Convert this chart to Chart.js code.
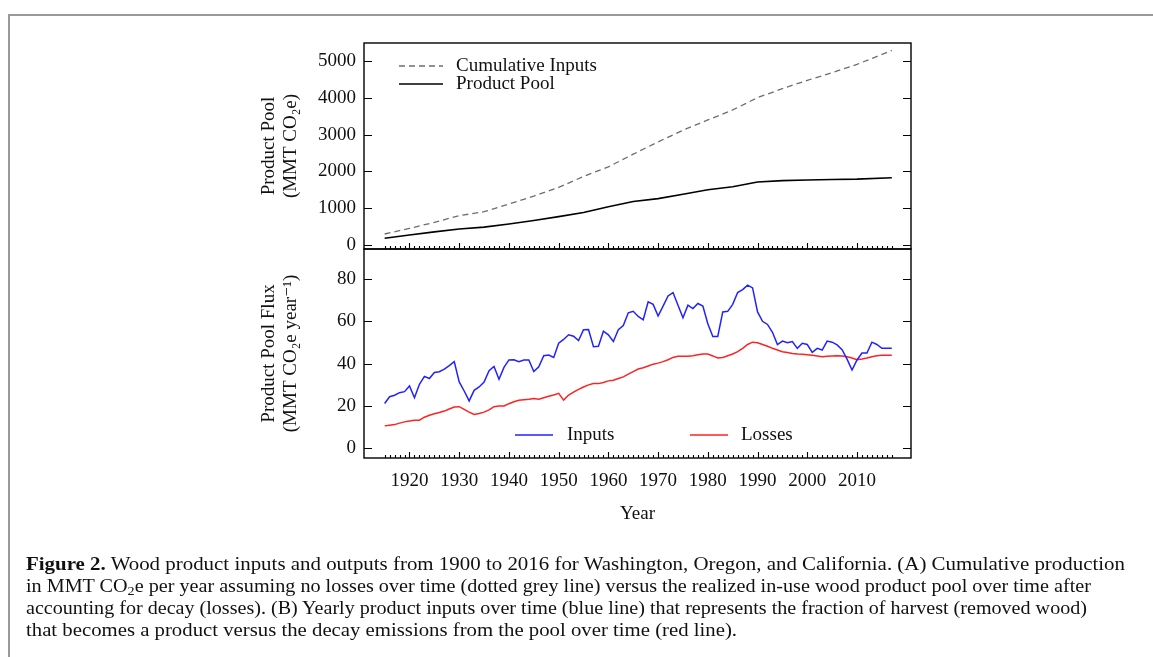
<!DOCTYPE html>
<html><head><meta charset="utf-8">
<script src="https://cdn.jsdelivr.net/npm/chart.js@4.4.1/dist/chart.umd.min.js"></script>
<style>
html,body{margin:0;padding:0;background:#fff;}
body{width:1153px;height:657px;position:relative;overflow:hidden;font-family:"Liberation Serif","DejaVu Serif",serif;}
#frame{position:absolute;left:8px;top:14px;width:1300px;height:800px;border-left:2px solid #999;border-top:2px solid #999;}
canvas{position:absolute;left:0;top:0;}
#caption{position:absolute;left:26px;top:553px;font-size:19px;line-height:22px;color:#111;white-space:nowrap;}
#caption .ln{display:block;width:max-content;transform-origin:0 0;}
#caption sub{font-size:0.7em;line-height:0;vertical-align:-0.25em;}
</style></head><body>
<div id="frame"></div>
<canvas id="topChart" width="1153" height="657"></canvas>
<canvas id="botChart" width="1153" height="657"></canvas>
<div id="caption">
<span class="ln"><b>Figure 2.</b> Wood product inputs and outputs from 1900 to 2016 for Washington, Oregon, and California. (A) Cumulative production</span>
<span class="ln">in MMT CO<sub>2</sub>e per year assuming no losses over time (dotted grey line) versus the realized in-use wood product pool over time after</span>
<span class="ln">accounting for decay (losses). (B) Yearly product inputs over time (blue line) that represents the fraction of harvest (removed wood)</span>
<span class="ln">that becomes a product versus the decay emissions from the pool over time (red line).</span>
</div>
<script>
// ---------- data ----------
const years = [1915,1916,1917,1918,1919,1920,1921,1922,1923,1924,1925,1926,1927,1928,1929,
1930,1931,1932,1933,1934,1935,1936,1937,1938,1939,1940,1941,1942,1943,1944,1945,1946,1947,1948,1949,
1950,1951,1952,1953,1954,1955,1956,1957,1958,1959,1960,1961,1962,1963,1964,1965,1966,1967,1968,1969,
1970,1971,1972,1973,1974,1975,1976,1977,1978,1979,1980,1981,1982,1983,1984,1985,1986,1987,1988,1989,
1990,1991,1992,1993,1994,1995,1996,1997,1998,1999,2000,2001,2002,2003,2004,2005,2006,2007,2008,2009,
2010,2011,2012,2013,2014,2015,2016,2017];
const inputs = [21.1,24.3,25.0,26.2,26.7,29.4,23.8,30.2,33.9,32.9,35.8,36.1,37.4,39.0,40.9,
31.3,27.0,22.3,27.3,28.9,31.2,36.6,38.6,32.6,38.2,41.7,41.8,40.9,41.7,41.7,36.2,38.5,43.7,44.0,42.9,
49.6,51.4,53.6,52.9,50.9,56.0,56.1,48.0,48.2,55.3,53.6,50.4,56.0,58.0,64.0,64.7,62.3,60.7,69.2,68.0,
62.5,67.2,72.0,73.6,67.6,61.7,67.6,66.0,68.4,67.2,58.8,52.8,52.8,64.4,64.7,68.0,73.6,75.0,77.1,75.8,
64.4,60.0,58.5,54.8,49.0,50.6,49.8,50.4,47.2,49.6,49.0,45.3,47.2,46.4,50.6,50.1,48.8,46.6,42.1,36.9,
41.7,45.0,45.0,50.1,49.0,47.2,47.2,47.2];
const losses = [10.5,10.8,11.1,11.8,12.4,12.8,13.2,13.2,14.6,15.5,16.2,16.8,17.5,18.5,19.4,
19.6,18.3,17.0,15.9,16.4,17.0,18.1,19.6,19.9,19.9,21.0,21.9,22.6,22.9,23.1,23.4,23.1,23.8,24.5,25.1,
25.9,22.7,25.1,26.5,27.8,28.9,29.9,30.5,30.5,31.0,31.8,32.1,32.9,33.7,35.0,36.2,37.4,38.0,38.8,39.7,
40.2,40.9,41.8,42.9,43.4,43.4,43.4,43.7,44.2,44.5,44.5,43.6,42.6,42.9,43.7,44.5,45.6,47.2,49.0,50.1,
49.8,49.0,48.2,47.2,46.4,45.6,45.2,44.8,44.5,44.4,44.2,43.9,43.6,43.2,43.4,43.6,43.7,43.6,43.2,42.6,
41.8,42.1,42.6,43.2,43.7,43.9,43.9,43.9];
const topYears = [1915,1920,1925,1930,1935,1940,1945,1950,1955,1960,1965,1970,1975,1980,1985,1990,1995,2000,2005,2010,2017];
const cumulativeInputs = [298,452,615,795,904,1112,1329,1564,1862,2124,2468,2802,3119,3399,3670,4005,4249,4475,4683,4909,5288];
const productPool = [181,270,355,434,485,570,665,770,880,1040,1180,1260,1380,1500,1580,1710,1750,1765,1781,1790,1826];

const xMajorTicks = [1920,1930,1940,1950,1960,1970,1980,1990,2000,2010];
const xMinorFrom = 1915, xMinorTo = 2017;
const yTopTicks = [0,500,1000,1500,2000,2500,3000,3500,4000,4500,5000];
const yTopLabels = [0,1000,2000,3000,4000,5000];
const yBotTicks = [0,10,20,30,40,50,60,70,80,90];
const yBotLabels = [0,20,40,60,80];

// ---------- helpers ----------
const FONT = "'Liberation Serif','DejaVu Serif',serif";
const pts = (xs, ys) => xs.map((x, i) => ({x, y: ys[i]}));

const axisDecor = {
  id: 'axisDecor',
  afterDatasetsDraw(chart, args, opts) {
    const {ctx, chartArea: a, scales} = chart;
    const xs = scales.x, ys = scales.y;
    ctx.save();
    ctx.strokeStyle = '#000';
    ctx.lineWidth = 1.4;
    ctx.strokeRect(a.left, a.top, a.right - a.left, a.bottom - a.top);
    ctx.beginPath();
    ys.ticks.forEach(t => {
      const py = Math.round(ys.getPixelForValue(t.value)) + 0.5;
      ctx.moveTo(a.left, py); ctx.lineTo(a.left + 8, py);
      ctx.moveTo(a.right, py); ctx.lineTo(a.right - 8, py);
    });
    for (let yr = xMinorFrom; yr <= xMinorTo; yr++) {
      const px = Math.round(xs.getPixelForValue(yr)) + 0.5;
      const len = xMajorTicks.includes(yr) ? 6 : 3;
      ctx.moveTo(px, a.bottom); ctx.lineTo(px, a.bottom - len);
    }
    ctx.lineWidth = 1.1;
    ctx.stroke();
    // legend inside the plot
    ctx.font = '19px ' + FONT;
    ctx.textBaseline = 'middle';
    ctx.textAlign = 'left';
    ctx.fillStyle = '#111';
    (opts.items || []).forEach(it => {
      const ds = chart.data.datasets[it.ds];
      ctx.beginPath();
      ctx.strokeStyle = ds.borderColor;
      ctx.lineWidth = ds.borderWidth;
      ctx.setLineDash(ds.borderDash || []);
      ctx.moveTo(it.x1, it.y); ctx.lineTo(it.x2, it.y);
      ctx.stroke();
      ctx.setLineDash([]);
      ctx.fillText(ds.label, it.tx, it.y);
    });
    ctx.restore();
  }
};

const xScaleBase = {
  type: 'linear', min: 1910.85, max: 2020.86,
  grid: {display: false, drawTicks: false},
  border: {display: false},
  afterBuildTicks: s => { s.ticks = xMajorTicks.map(v => ({value: v})); }
};

function yScale(ticks, labels, min, max, title) {
  return {
    type: 'linear', min, max, position: 'left',
    grid: {display: false, drawTicks: false},
    border: {display: false},
    afterBuildTicks: s => { s.ticks = ticks.map(v => ({value: v})); },
    afterFit: s => { s.width = 114; },
    ticks: {
      padding: 8, color: '#111', font: {family: FONT, size: 19},
      callback: v => labels.includes(v) ? String(v) : ''
    },
    title: {
      display: true, text: title, color: '#111', align: 'center',
      font: {family: FONT, size: 19, lineHeight: 1.15},
      padding: {top: 8, bottom: 0}
    }
  };
}

Chart.defaults.animation = false;

new Chart(document.getElementById('topChart'), {
  type: 'line',
  data: {
    datasets: [
      {label: 'Cumulative Inputs', data: pts(topYears, cumulativeInputs), borderColor: '#6e6e6e',
       borderWidth: 1.3, borderDash: [6, 4], pointRadius: 0, tension: 0, fill: false},
      {label: 'Product Pool', data: pts(topYears, productPool), borderColor: '#000',
       borderWidth: 1.6, pointRadius: 0, tension: 0, fill: false}
    ]
  },
  options: {
    responsive: false, devicePixelRatio: 1,
    layout: {padding: {left: 250, right: 242, top: 43, bottom: 408}},
    plugins: {legend: {display: false}, tooltip: {enabled: false},
      axisDecor: {items: [
        {ds: 0, x1: 399, x2: 443, y: 66, tx: 456},
        {ds: 1, x1: 399, x2: 443, y: 84, tx: 456}
      ]}},
    scales: {
      x: Object.assign({}, xScaleBase, {display: false}),
      y: yScale(yTopTicks, yTopLabels, -110, 5490, ['Product Pool', '(MMT CO\u2082e)'])
    }
  },
  plugins: [axisDecor]
});

new Chart(document.getElementById('botChart'), {
  type: 'line',
  data: {
    datasets: [
      {label: 'Inputs', data: pts(years, inputs), borderColor: '#2222ff',
       borderWidth: 1.5, pointRadius: 0, tension: 0, fill: false},
      {label: 'Losses', data: pts(years, losses), borderColor: '#ff2222',
       borderWidth: 1.5, pointRadius: 0, tension: 0, fill: false}
    ]
  },
  options: {
    responsive: false, devicePixelRatio: 1,
    layout: {padding: {left: 250, right: 242, top: 249, bottom: 119}},
    plugins: {legend: {display: false}, tooltip: {enabled: false},
      axisDecor: {items: [
        {ds: 0, x1: 515, x2: 553, y: 435, tx: 567},
        {ds: 1, x1: 690, x2: 728, y: 435, tx: 741}
      ]}},
    scales: {
      x: Object.assign({}, xScaleBase, {
        display: true,
        afterFit: s => { s.height = 80; },
        ticks: {padding: 12, color: '#111', font: {family: FONT, size: 19}, maxRotation: 0, autoSkip: false,
                callback: v => String(v)},
        title: {display: true, text: 'Year', color: '#111', font: {family: FONT, size: 19, lineHeight: 1.15},
                padding: {top: 0, bottom: 13}}
      }),
      y: yScale(yBotTicks, yBotLabels, -4.7, 94.2, ['Product Pool Flux', '(MMT CO\u2082e year\u207B\u00B9)'])
    }
  },
  plugins: [axisDecor]
});

// fit caption lines to the reference line widths
const capTargets = [1099, 1065, 1061, 711];
document.querySelectorAll('#caption .ln').forEach((el, i) => {
  const w = el.getBoundingClientRect().width;
  if (w > 0) el.style.transform = 'scaleX(' + (capTargets[i] / w).toFixed(4) + ')';
});
</script>
</body></html>
